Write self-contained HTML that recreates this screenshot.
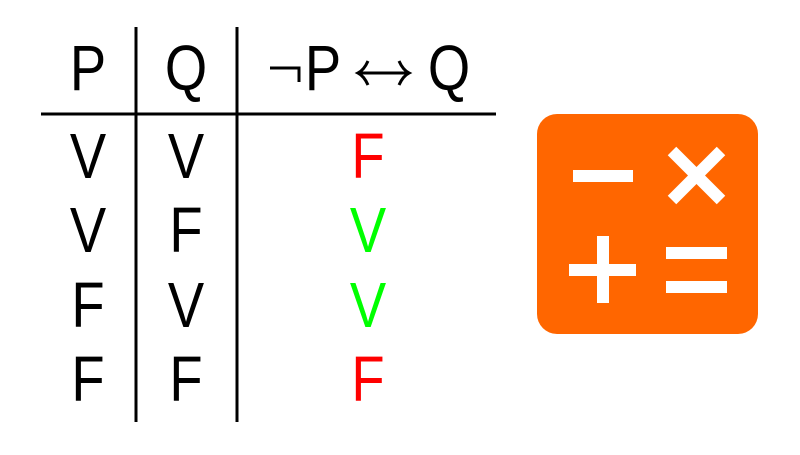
<!DOCTYPE html>
<html><head><style>body{margin:0;background:#fff}</style></head><body>
<svg width="800" height="450" xmlns="http://www.w3.org/2000/svg">
<rect width="800" height="450" fill="#fff"/>
<g stroke="#000" stroke-width="3">
<line x1="136" y1="27" x2="136" y2="422"/>
<line x1="237" y1="27" x2="237" y2="422"/>
<line x1="41" y1="114" x2="496" y2="114"/>
</g>
<g font-family="Liberation Sans, DejaVu Sans, sans-serif" font-size="64" text-anchor="middle">
<g transform="translate(88,0) scale(0.85,1)"><text x="0" y="90">P</text><text y="178">V</text><text y="252">V</text><text y="327">F</text><text y="401">F</text></g>
<g transform="translate(186,0) scale(0.85,1)"><text x="0" y="90">Q</text><text y="178">V</text><text y="252">F</text><text y="327">V</text><text y="401">F</text></g>
<g transform="translate(368,0) scale(0.85,1)"><text y="178" fill="#f00">F</text><text y="252" fill="#0f0">V</text><text y="327" fill="#0f0">V</text><text y="401" fill="#f00">F</text></g>
<g transform="translate(323,0) scale(0.85,1)"><text x="0" y="90">P</text></g>
<g transform="translate(449,0) scale(0.85,1)"><text x="0" y="90">Q</text></g>
</g>
<g stroke="#000" stroke-width="3" fill="none">
<path d="M270 68 H299 V82"/>
<path d="M359 73 H408"/>
<path d="M368 61 Q364 70 358 73 Q364 76 368 85"/>
<path d="M399 61 Q403 70 409 73 Q403 76 399 85"/>
</g>
<rect x="537" y="114" width="221" height="220" rx="20" fill="#ff6600"/>
<g fill="#fff">
<rect x="573" y="170" width="60" height="12"/>
<rect x="569" y="264" width="67" height="12"/>
<rect x="597" y="236" width="12" height="67"/>
<rect x="666" y="247" width="61" height="12"/>
<rect x="666" y="281" width="61" height="12"/>
</g>
<g stroke="#fff" stroke-width="12">
<line x1="672" y1="151" x2="721" y2="200"/>
<line x1="721" y1="151" x2="672" y2="200"/>
</g>
</svg>
</body></html>
